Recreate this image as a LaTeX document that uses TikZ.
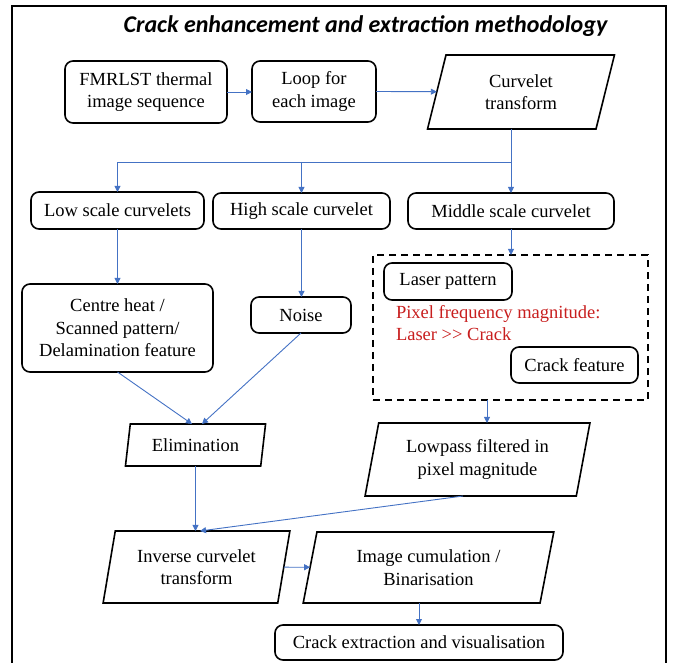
\documentclass[tikz,border=0pt]{standalone}
\usepackage{fontspec}
\setmainfont{Liberation Serif}
\newfontfamily\titlefont{Carlito}
\usetikzlibrary{shapes.geometric,arrows.meta,calc}
\definecolor{arrowblue}{RGB}{68,114,196}
\definecolor{redtext}{RGB}{200,30,30}
\begin{document}
\begin{tikzpicture}[x=1pt,y=-1pt,
  every node/.style={font=\rmfamily\fontsize{18.5}{22.5}\selectfont, align=center, inner sep=0pt, outer sep=0pt},
  rbox/.style={draw=black, line width=1.6pt, rounded corners=8pt},
  pbox/.style={draw=black, line width=1.6pt, trapezium, trapezium left angle=76, trapezium right angle=104, trapezium stretches=true},
  conn/.style={draw=arrowblue, line width=0.9pt},
  arr/.style={conn, -{Triangle[length=6pt,width=6pt]}},
  frame/.style={draw=black, line width=1.3pt}]
\useasboundingbox (0,0) rectangle (686,663);
\draw[frame] (12,663) -- (12,6) -- (666,6) -- (666,663);
\node[font=\titlefont\bfseries\itshape\fontsize{24}{28}\selectfont, anchor=base] (title) at (365.5,33) {Crack enhancement and extraction methodology};
% row 1
\node[rbox, minimum width=162pt, minimum height=62pt] (fm) at (146,92) {FMRLST thermal\\image sequence};
\node[rbox, minimum width=124pt, minimum height=61pt] (loop) at (314,91.5) {Loop for\\each image};
\node[pbox, minimum width=188pt, minimum height=74pt] (cur) at (521,92) {Curvelet\\transform};
% row 2
\node[rbox, minimum width=173pt, minimum height=37pt] (low) at (117.5,210.5) {Low scale curvelets};
\node[rbox, minimum width=177pt, minimum height=36pt] (high) at (301.5,211) {High scale curvelet};
\node[rbox, minimum width=206pt, minimum height=36pt] (mid) at (511,211) {Middle scale curvelet};
% row 3
\node[rbox, minimum width=191pt, minimum height=88pt] (centre) at (117.5,328) {Centre heat /\\Scanned pattern/\\Delamination feature};
\node[rbox, minimum width=100pt, minimum height=36pt] (noise) at (301,315) {Noise};
\node[draw=black, line width=1.6pt, dash pattern=on 7pt off 5pt, minimum width=275pt, minimum height=145pt] (grp) at (510.5,327.5) {};
\node[rbox, minimum width=128pt, minimum height=37pt] (laser) at (448,281.5) {Laser pattern};
\node[anchor=north west, align=left, text=redtext] (ratio) at (396,305) {Pixel frequency magnitude:\\Laser >\kern0pt> Crack};
\node[rbox, minimum width=127pt, minimum height=36pt] (crackf) at (574.5,365) {Crack feature};
% row 4
\node[pbox, minimum width=141pt, minimum height=42pt] (elim) at (195.5,445) {Elimination};
\node[pbox, minimum width=225pt, minimum height=73pt] (lp) at (477.5,459.5) {Lowpass filtered in\\pixel magnitude};
% row 5
\node[pbox, minimum width=187pt, minimum height=72pt] (inv) at (196.5,567) {Inverse curvelet\\transform};
\node[pbox, minimum width=251pt, minimum height=71pt] (img) at (428.5,567.5) {Image cumulation /\\Binarisation};
\node[rbox, minimum width=288pt, minimum height=35pt] (ext) at (419,642.5) {Crack extraction and visualisation};
% connectors
\coordinate (bus) at (511,162);
\draw[arr] (fm.east) -- (fm.east -| loop.west);
\draw[arr] (loop.east) -- (cur);
\draw[arr] (cur.south -| mid.north) -- (mid.north);
\draw[arr] (bus) -| (low.north);
\draw[arr] (high.north |- bus) -- (high.north);
\draw[arr] (low.south) -- (low.south |- centre.north);
\draw[arr] (high.south) -- (high.south |- noise.north);
\draw[arr] (centre.south) -- ([xshift=-3.5pt]elim.north);
\draw[arr] (noise.south) -- ([xshift=6.5pt]elim.north);
\draw[arr] (mid.south) -- (mid.south |- grp.north);
\draw[arr] ([xshift=-23.5pt]grp.south) -- ([xshift=-23.5pt]grp.south |- lp.north);
\draw[arr] (elim.south) -- (elim.south |- inv.north);
\draw[arr] ([xshift=-14.5pt]lp.south) -- ([xshift=3.5pt]inv.north);
\draw[arr] (inv) -- (img);
\draw[arr] (img.south -| ext.north) -- (ext.north);
\end{tikzpicture}
\end{document}
